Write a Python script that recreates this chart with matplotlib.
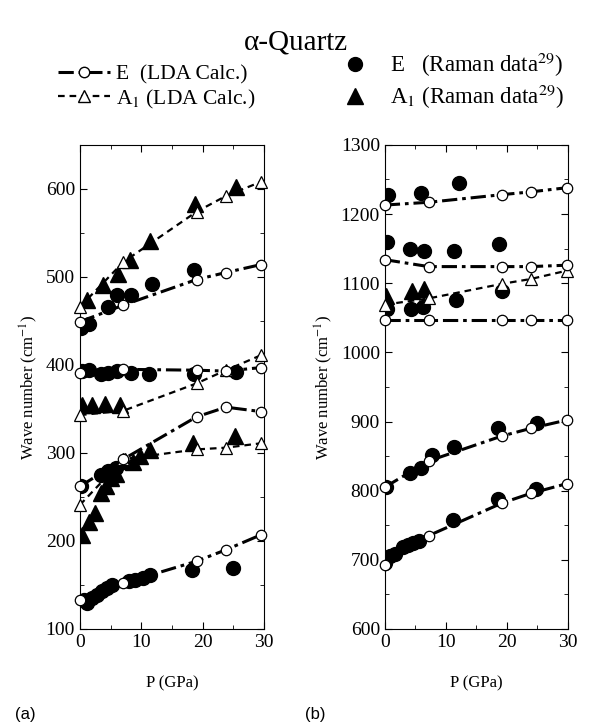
import numpy as np
import matplotlib.pyplot as plt
from matplotlib.lines import Line2D

plt.rcParams['font.family'] = 'Liberation Serif'
plt.rcParams['mathtext.fontset'] = 'stix'

# ---- panel (a) ----
p_lda_a = [0, 7.1, 19, 23.8, 29.5]
e_lda_a = [[133, 152, 177, 190, 207],
           [262, 293, 341, 352, 347],
           [391, 395, 394, 393, 397],
           [449, 468, 497, 505, 514]]
a1_lda_a = [[241, 293, 304, 306, 311],
            [343, 348, 379, 394, 411],
            [466, 517, 574, 592, 608]]

e_raman_a_p = [[0.6, 1.2, 2, 2.8, 3.6, 4.4, 5.2, 8, 9, 10.2, 11.5, 18.2, 25],
               [0.1, 3.5, 4.6, 5.8],
               [0.3, 1.5, 3.5, 4.6, 6, 8.3, 11.3, 18.6, 25.5],
               [0.2, 1.4, 4.6, 6.1, 8.4, 11.7, 18.6]]
e_raman_a_w = [[133, 130, 135, 139, 143, 147, 150, 154, 156, 158, 161, 167, 169],
               [263, 275, 279, 283],
               [393, 394, 390, 391, 393, 391, 390, 390, 392],
               [442, 446, 466, 479, 479, 492, 508]]
a1_raman_a_p = [[0.3, 1.5, 2.4, 3.5, 4.3, 5.0, 5.9, 7.3, 8.7, 9.8, 11.4, 18.5, 25.3],
                [0.4, 1.9, 4.1, 6.5],
                [1.1, 3.7, 6.2, 8.1, 11.4, 18.8, 25.5]]
a1_raman_a_w = [[207, 222, 232, 254, 262, 272, 276, 291, 290, 297, 303, 311, 319],
                [354, 354, 356, 354],
                [474, 491, 503, 519, 541, 583, 602]]

# ---- panel (b) ----
p_lda_b = [0, 7.2, 19.2, 23.9, 29.8]
e_lda_b = [[693, 735, 782, 796, 810],
           [805, 843, 879, 890, 902],
           [1047, 1047, 1047, 1047, 1047],
           [1134, 1124, 1124, 1124, 1126],
           [1213, 1217, 1228, 1232, 1238]]
a1_lda_b = [[1069, 1078, 1099, 1106, 1118]]

e_raman_b_p = [[0.1, 0.8, 1.6, 3.0, 3.8, 4.6, 5.6, 11.2, 18.6, 24.8],
               [0.2, 4.1, 6.0, 7.8, 11.3, 18.6, 25.0],
               [0.4, 4.3, 6.2, 11.6, 19.2],
               [0.4, 4.1, 6.4, 11.4, 18.8],
               [0.55, 6.0, 12.1]]
e_raman_b_w = [[695, 705, 708, 718, 722, 725, 727, 757, 788, 802],
               [805, 825, 833, 851, 863, 891, 898],
               [1062, 1063, 1065, 1075, 1089],
               [1159, 1149, 1147, 1147, 1157],
               [1228, 1231, 1245]]
a1_raman_b_p = [[0.2, 4.4, 6.4]]
a1_raman_b_w = [[1082, 1089, 1091]]

E_DASH = (5, 1.6, 1.2, 1.6)
A_DASH = (3, 2.2)


def draw_panel(ax, p_lda, e_lda, a1_lda, e_p, e_w, a_p, a_w):
    for p, w in zip(a_p, a_w):
        ax.plot(p, w, ls='', marker='^', ms=11, color='k', zorder=2)
    for p, w in zip(e_p, e_w):
        ax.plot(p, w, ls='', marker='o', ms=10, color='k', zorder=2)
    for w in a1_lda:
        ax.plot(p_lda, w, color='k', lw=1.6, dashes=A_DASH, marker='^', ms=8,
                mfc='white', mec='k', mew=0.9, zorder=3, clip_on=False)
    for w in e_lda:
        ax.plot(p_lda, w, color='k', lw=2.2, dashes=E_DASH, marker='o', ms=7.5,
                mfc='white', mec='k', mew=0.9, zorder=4, clip_on=False)
    ax.set_xlim(0, 30)
    ax.set_xticks([0, 10, 20, 30])
    ax.set_xticks([5, 15, 25], minor=True)
    ax.tick_params(which='both', direction='in', top=True, right=True, labelsize=14)
    ax.tick_params(which='major', length=5)
    ax.tick_params(which='minor', length=3)
    ax.set_xlabel('P (GPa)', fontsize=12, labelpad=18)
    ax.set_ylabel('Wave number (cm$^{-1}$)', fontsize=12, labelpad=4)


fig = plt.figure(figsize=(5.92, 7.28), dpi=100)
ax1 = fig.add_axes([0.135, 0.136, 0.311, 0.665])
ax2 = fig.add_axes([0.650, 0.136, 0.309, 0.665])

draw_panel(ax1, p_lda_a, e_lda_a, a1_lda_a, e_raman_a_p, e_raman_a_w, a1_raman_a_p, a1_raman_a_w)
ax1.set_ylim(100, 650)
ax1.set_yticks([100, 200, 300, 400, 500, 600])
ax1.set_yticks([150, 250, 350, 450, 550, 650], minor=True)

draw_panel(ax2, p_lda_b, e_lda_b, a1_lda_b, e_raman_b_p, e_raman_b_w, a1_raman_b_p, a1_raman_b_w)
ax2.set_ylim(600, 1300)
ax2.set_yticks([600, 700, 800, 900, 1000, 1100, 1200, 1300])
ax2.set_yticks(np.arange(650, 1300, 100), minor=True)

fig.text(0.5, 0.942, 'α-Quartz', ha='center', va='center', fontsize=21)

h_e_lda = Line2D([], [], color='k', lw=2.2, dashes=E_DASH, marker='o', ms=7.5, mfc='white', mec='k')
h_a_lda = Line2D([], [], color='k', lw=1.6, dashes=A_DASH, marker='^', ms=8, mfc='white', mec='k')
fig.legend([h_e_lda, h_a_lda], ['E  (LDA Calc.)', 'A$_1$ (LDA Calc.)'],
           loc='center left', bbox_to_anchor=(0.065, 0.88), frameon=False,
           fontsize=15.5, handlelength=2.4, handletextpad=0.3, labelspacing=0.15)

h_e_ram = Line2D([], [], ls='', marker='o', ms=10, color='k')
h_a_ram = Line2D([], [], ls='', marker='^', ms=11, color='k')
fig.legend([h_e_ram, h_a_ram], ['E   (Raman data$^{29}$)', 'A$_1$ (Raman data$^{29}$)'],
           loc='center left', bbox_to_anchor=(0.535, 0.889), frameon=False,
           fontsize=16.5, handlelength=1.5, handletextpad=0.8, labelspacing=0.15)

fig.text(0.025, 0.012, '(a)', fontsize=12, family='Liberation Sans')
fig.text(0.515, 0.012, '(b)', fontsize=12, family='Liberation Sans')

fig.savefig('out.png', dpi=100)
